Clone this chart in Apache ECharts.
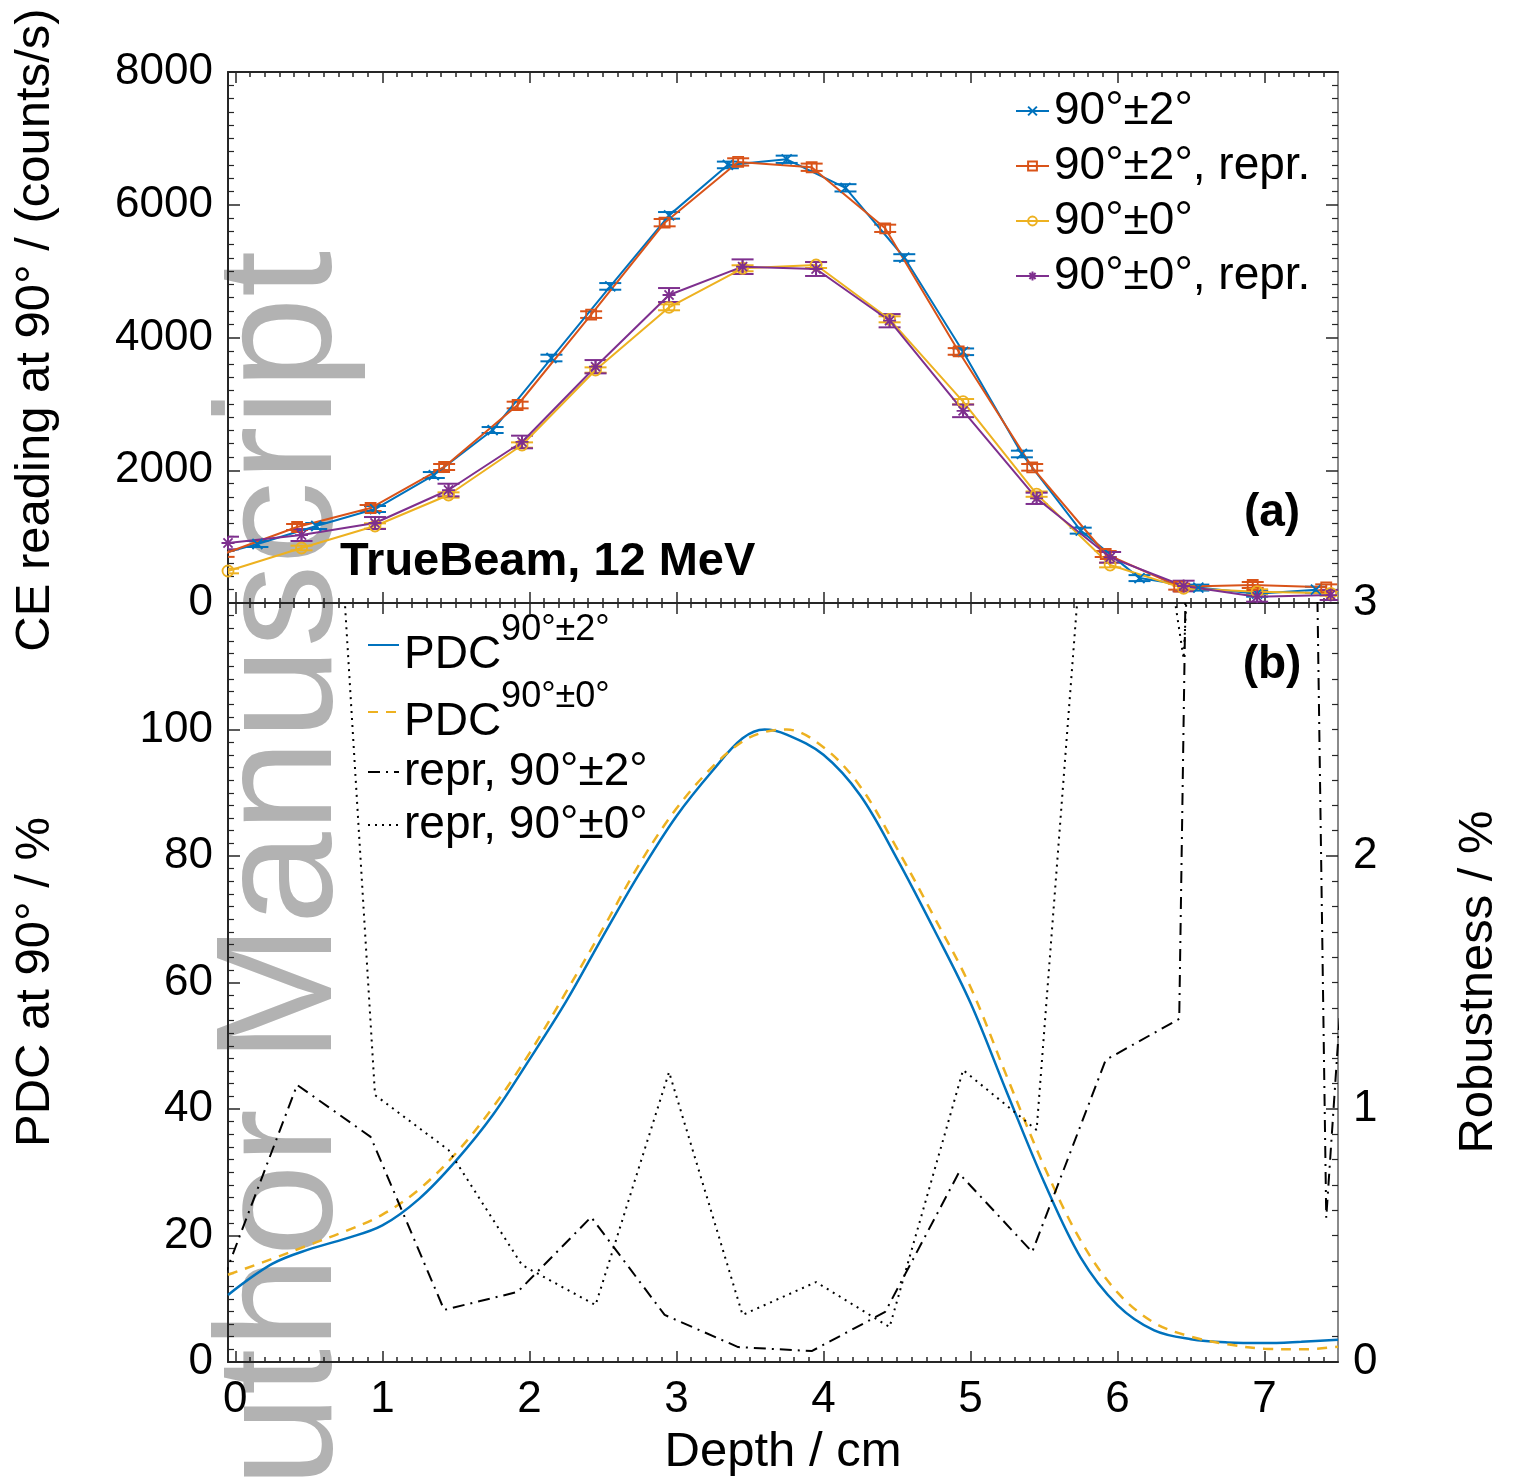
<!DOCTYPE html>
<html>
<head>
<meta charset="utf-8">
<title>TrueBeam, 12 MeV</title>
<script src="https://cdn.jsdelivr.net/npm/echarts@6.0.0/dist/echarts.min.js"></script>
<style>
html,body{margin:0;padding:0;background:#ffffff;}
#chart{width:1513px;height:1484px;}
</style>
</head>
<body>
<div id="chart"></div>
<script>
// ---------------- Panel (a): CE reading at 90° / (counts/s) ----------------
const depthBlue   = [-0.25,0.15,0.55,0.95,1.35,1.75,2.15,2.55,2.95,3.35,3.75,4.15,4.55,4.95,5.35,5.75,6.15,6.55,6.95,7.35];
const ceBlue      = [650,889,1160,1416,1928,2606,3691,4770,5840,6600,6685,6255,5205,3785,2245,1090,375,232,140,200];
const errBlue     = [45,45,45,45,45,45,50,50,50,50,55,55,50,50,50,45,45,45,45,45];

const depthOrange = [-0.08,0.42,0.92,1.42,1.92,2.42,2.92,3.42,3.92,4.42,4.92,5.42,5.92,6.42,6.92,7.42];
const ceOrange    = [740,1145,1431,2049,2983,4345,5730,6645,6565,5645,3790,2044,738,246,271,236];
const errOrange   = [45,45,45,45,50,50,55,55,55,55,50,50,45,45,45,45];

const depthZero   = [-0.05,0.45,0.95,1.45,1.95,2.45,2.95,3.45,3.95,4.45,4.95,5.45,5.95,6.45,6.95,7.45];
const ceYellow    = [482,829,1160,1627,2380,3510,4455,5043,5092,4274,3033,1640,572,221,171,146];
const errYellow   = [35,35,40,40,40,40,45,45,45,45,40,40,35,35,35,35];
const cePurple    = [904,1024,1205,1702,2426,3560,4640,5067,5032,4253,2895,1577,688,256,95,120];
const errPurple   = [95,90,90,95,95,100,105,110,105,100,95,85,80,80,75,75];

// ---------------- Panel (b): PDC at 90° / % and Robustness / % ----------------
const depthPdc = [-0.05,0.25,0.5,0.75,1.0,1.25,1.5,1.75,2.0,2.25,2.5,2.75,3.0,3.25,3.45,3.6,3.75,4.0,4.25,4.5,4.75,5.0,5.25,5.5,5.75,6.0,6.25,6.5,6.75,7.0,7.25,7.5];
const pdcTwo   = [10.6,15.5,17.8,19.5,21.6,25.8,31.8,39.0,47.8,57.0,67.3,77.3,86.3,93.6,98.6,100.0,99.2,96.0,89.6,79.6,68.5,56.8,42.5,28.5,16.5,9.0,5.0,3.6,3.1,3.0,3.2,3.5];
const pdcZero  = [13.8,16.3,18.5,20.7,23.3,27.3,33.0,40.2,48.8,58.5,68.5,78.8,87.5,94.2,98.1,99.6,100.0,97.2,91.0,81.2,70.5,59.3,45.0,31.0,19.2,11.0,6.2,4.0,2.8,2.1,2.0,2.4];

const depthReprTwo  = [-0.08,0.42,0.92,1.42,1.92,2.42,2.92,3.42,3.92,4.42,4.92,5.42,5.92,6.42,6.92,7.42,7.92];
const reprTwo       = [0.33,1.095,0.89,0.206,0.277,0.573,0.186,0.059,0.043,0.198,0.747,0.435,1.194,1.356,21.0,0.57,4.9];
const depthReprZero = [-0.05,0.45,0.95,1.45,1.95,2.45,2.95,3.45,3.95,4.45,4.95,5.45,5.95,6.45,6.95,7.45,7.95];
const reprZero      = [4.5,5.8,1.055,0.838,0.383,0.225,1.146,0.186,0.316,0.138,1.154,0.917,4.7,2.78,9.0,5.0,5.0];

// ---------------- Ticks ----------------
const xTickLabels = [0,1,2,3,4,5,6,7];
const xMinorTicks = [];
for (let i = 1; i < 75; i++) { if (i % 10) xMinorTicks.push(i / 10); }
const yPdcTicks = [0,20,40,60,80,100];
const yRobTicks = [0,1,2,3];

// ---------------- Styles ----------------
const FONT = '"Liberation Sans", Arial, Helvetica, sans-serif';
const AX = '#262626', AXR = '#8a8a8a';
const C_BLUE = '#0072BD', C_ORANGE = '#D95319', C_YELLOW = '#EDB120', C_PURPLE = '#7E2F8E';
const SYM_X = 'path://M0,0L10,10M10,0L0,10';
const SYM_SQ = 'path://M0,0L10,0L10,10L0,10Z';
const SYM_CIR = 'path://M10,5A5,5,0,1,1,0,5A5,5,0,1,1,10,5Z';
const SYM_AST = 'path://M5,0L5,10M0,5L10,5M1.5,1.5L8.5,8.5M8.5,1.5L1.5,8.5';

const chart = echarts.init(document.getElementById('chart'), null, {renderer: 'canvas', width: 1513, height: 1484});

function xAx(grid, pos, major, showLine, showLabels) {
  return {
    type: 'value', gridIndex: grid, position: pos, min: -0.05, max: 7.5,
    axisLine: {show: showLine, onZero: false, lineStyle: {color: AX, width: 2}},
    axisTick: {show: true, inside: true, length: major ? 11 : 5, customValues: major ? xTickLabels : xMinorTicks,
               lineStyle: {color: AX, width: 1.5}},
    axisLabel: {show: !!showLabels, customValues: xTickLabels, fontSize: 44, fontFamily: FONT, color: '#000', margin: 16,
                formatter: v => String(v)},
    splitLine: {show: false}, minorTick: {show: false}, minorSplitLine: {show: false}
  };
}
function yAx(grid, pos, min, max, interval, showLabels, lineColor, fmt) {
  return {
    type: 'value', gridIndex: grid, position: pos, min: min, max: max, interval: interval,
    axisLine: {show: true, onZero: false, lineStyle: {color: lineColor, width: 2}},
    axisTick: {show: true, inside: true, length: 12, lineStyle: {color: AX, width: 1.5}},
    minorTick: {show: true, splitNumber: 10, length: 6, lineStyle: {color: AX, width: 1.2}},
    axisLabel: {show: showLabels, fontSize: 44, fontFamily: FONT, color: '#000', margin: 15,
                formatter: fmt || (v => String(v))},
    splitLine: {show: false}
  };
}

function errRender(color) {
  return function (params, api) {
    const x = api.value(0), y = api.value(1), e = api.value(2);
    const p0 = api.coord([x, y - e]), p1 = api.coord([x, y + e]);
    const hw = 11, st = {stroke: color, lineWidth: 2};
    return {type: 'group', children: [
      {type: 'line', shape: {x1: p0[0], y1: p0[1], x2: p1[0], y2: p1[1]}, style: st},
      {type: 'line', shape: {x1: p0[0] - hw, y1: p0[1], x2: p0[0] + hw, y2: p0[1]}, style: st},
      {type: 'line', shape: {x1: p1[0] - hw, y1: p1[1], x2: p1[0] + hw, y2: p1[1]}, style: st}
    ]};
  };
}
function ceLine(name, xs, ys, color, symbol, size) {
  return {
    name: name, type: 'line', xAxisIndex: 0, yAxisIndex: 0, data: xs.map((x, i) => [x, ys[i]]),
    symbol: symbol, symbolSize: size, showAllSymbol: true, clip: true, silent: true, z: 4,
    lineStyle: {color: color, width: 2},
    itemStyle: {color: 'rgba(255,255,255,0)', borderColor: color, borderWidth: 1.8},
    emphasis: {disabled: true}
  };
}
function ceErr(xs, ys, es, color) {
  return {type: 'custom', xAxisIndex: 0, yAxisIndex: 0, data: xs.map((x, i) => [x, ys[i], es[i]]),
          renderItem: errRender(color), clip: true, silent: true, z: 3};
}
function bLine(name, xs, ys, yIdx, color, type, width, smooth) {
  return {
    name: name, type: 'line', xAxisIndex: 4, yAxisIndex: yIdx, data: xs.map((x, i) => [x, ys[i]]),
    symbol: 'none', smooth: smooth, clip: true, silent: true, z: 4,
    lineStyle: {color: color, width: width, type: type},
    itemStyle: {color: color}, emphasis: {disabled: true}
  };
}

const N1 = '90°±2°', N2 = '90°±2°, repr.', N3 = '90°±0°', N4 = '90°±0°, repr.';
const P1 = 'PDC 90°±2°', P2 = 'PDC 90°±0°', R1 = 'repr, 90°±2°', R2 = 'repr, 90°±0°';

const legText = {fontSize: 46, fontFamily: FONT, color: '#000', lineHeight: 50};
function legA(name, cy) {
  return {data: [name], orient: 'vertical', left: 1015, top: cy - 25, padding: 0, itemGap: 0,
          itemWidth: 33, itemHeight: 11, textStyle: legText, selectedMode: false};
}
const richPdc = {
  b: {fontSize: 46, fontFamily: FONT, color: '#000', padding: [20, 0, 0, 0], verticalAlign: 'bottom'},
  s: {fontSize: 36, fontFamily: FONT, color: '#000', verticalAlign: 'top'}
};
function legB(name, top, rich) {
  const l = {data: [name], orient: 'vertical', left: 367, top: top, padding: 0, itemGap: 0,
             itemWidth: 31, itemHeight: 10, selectedMode: false,
             itemStyle: {color: 'rgba(0,0,0,0)', borderWidth: 0, borderColor: 'rgba(0,0,0,0)'},
             textStyle: rich ? {fontSize: 46, fontFamily: FONT, color: '#000', rich: richPdc} : legText};
  if (rich) l.formatter = n => '{b|PDC}{s|' + n.replace('PDC ', '') + '}';
  return l;
}

function txt(text, x, y, font, rot, align) {
  return {type: 'text', x: x, y: y, rotation: rot || 0, silent: true, z: 10,
    style: {text: text, font: font, fill: '#000', textAlign: align || 'center', textVerticalAlign: 'middle'}};
}

const option = {
  animation: false,
  backgroundColor: '#ffffff',
  grid: [
    {left: 228, top: 72, width: 1110, height: 531, containLabel: false, outerBoundsMode: 'none'},
    {left: 228, top: 603, width: 1110, height: 759, containLabel: false, outerBoundsMode: 'none'}
  ],
  xAxis: [
    xAx(0, 'bottom', true, true, false),
    xAx(0, 'bottom', false, false, false),
    xAx(0, 'top', true, true, false),
    xAx(0, 'top', false, false, false),
    xAx(1, 'bottom', true, true, true),
    xAx(1, 'bottom', false, false, false),
    xAx(1, 'top', true, false, false),
    xAx(1, 'top', false, false, false)
  ],
  yAxis: [
    yAx(0, 'left', 0, 8000, 2000, true, AX),
    yAx(0, 'right', 0, 8000, 2000, false, AXR),
    yAx(1, 'left', 0, 120, 20, true, AX, v => (yPdcTicks.indexOf(v) >= 0 ? String(v) : '')),
    yAx(1, 'right', 0, 3, 1, true, AXR, v => (yRobTicks.indexOf(v) >= 0 ? String(v) : ''))
  ],
  legend: [
    legA(N1, 111), legA(N2, 166), legA(N3, 221), legA(N4, 276),
    legB(P1, 612, true), legB(P2, 679, true), legB(R1, 747, false), legB(R2, 800, false)
  ],
  series: [
    ceErr(depthBlue, ceBlue, errBlue, C_BLUE),
    ceErr(depthOrange, ceOrange, errOrange, C_ORANGE),
    ceErr(depthZero, ceYellow, errYellow, C_YELLOW),
    ceErr(depthZero, cePurple, errPurple, C_PURPLE),
    ceLine(N1, depthBlue, ceBlue, C_BLUE, SYM_X, 10),
    ceLine(N2, depthOrange, ceOrange, C_ORANGE, SYM_SQ, 10),
    ceLine(N3, depthZero, ceYellow, C_YELLOW, SYM_CIR, 11),
    ceLine(N4, depthZero, cePurple, C_PURPLE, SYM_AST, 13),
    bLine(P1, depthPdc, pdcTwo, 2, C_BLUE, 'solid', 2.5, 0.35),
    bLine(P2, depthPdc, pdcZero, 2, C_YELLOW, [10, 8], 2.5, 0.35),
    bLine(R1, depthReprTwo, reprTwo, 3, '#000', [12, 6, 2, 6], 2, false),
    bLine(R2, depthReprZero, reprZero, 3, '#000', [2, 5], 2, false)
  ],
  graphic: {elements: [
    {type: 'text', x: 285, y: 1598, rotation: Math.PI / 2, silent: true, z: -5,
     style: {text: 'Author Manuscript', font: '166px "Liberation Sans", Arial, sans-serif', fill: '#b2b2b2',
             textAlign: 'left', textVerticalAlign: 'middle'}},
    txt('TrueBeam, 12 MeV', 340, 562, 'bold 47px ' + FONT, 0, 'left'),
    txt('(a)', 1272, 513, 'bold 46px ' + FONT),
    txt('(b)', 1272, 665, 'bold 46px ' + FONT),
    txt('CE reading at 90° / (counts/s)', 35, 330, '49px ' + FONT, Math.PI / 2),
    txt('PDC at 90° / %', 35, 982, '49px ' + FONT, Math.PI / 2),
    txt('Robustness / %', 1478, 982, '49px ' + FONT, Math.PI / 2),
    txt('Depth / cm', 783, 1452, '49px ' + FONT)
  ]}
};
chart.setOption(option);
</script>
</body>
</html>
